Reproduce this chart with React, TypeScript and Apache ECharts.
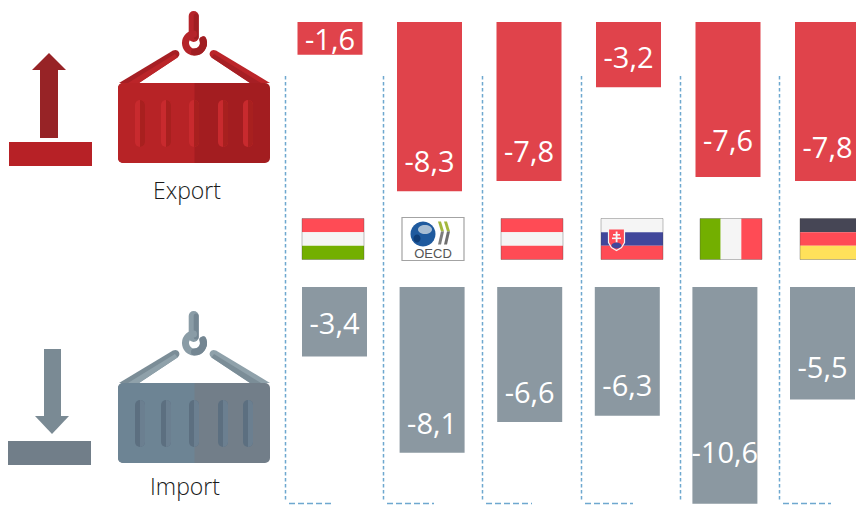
import React, { useEffect, useRef } from "react";
import * as echarts from "echarts";

const countries = ["Hungary", "OECD", "Austria", "Slovakia", "Italy", "Germany"];
const exportValues = [-1.6, -8.3, -7.8, -3.2, -7.6, -7.8];
const importValues = [-3.4, -8.1, -6.6, -6.3, -10.6, -5.5];
const exportLabelLift = [2, 16, 16, 16, 23, 20];
const importLabelLift = [20, 16, 16, 17, 38, 19];
const dividerX = [285, 383, 482, 581, 680, 779];
const dividerFootEnd = [333, 434, 532, 633, 680, 831];
const flagX = [302, 402, 501, 601, 700, 800];

const RED = "#e0434b";
const GREY = "#8b98a1";
const DASH = "#6ea8cf";
const FONT = "'Open Sans', sans-serif";

const fmt = (p: any) => Number(p.value).toFixed(1).replace(".", ",");

function barSeries(values: number[], lifts: number[], axis: number, color: string) {
  return {
    type: "bar",
    xAxisIndex: axis,
    yAxisIndex: axis,
    barWidth: 65,
    silent: true,
    itemStyle: { color },
    data: values.map((v, i) => ({
      value: v,
      label: {
        show: true,
        position: "insideBottom",
        distance: 0,
        offset: [0, -lifts[i]],
        color: "#ffffff",
        fontFamily: FONT,
        fontSize: 29,
        formatter: fmt,
      },
    })),
  };
}

function container(y: number, c: any): any[] {
  const ribs = [135, 161, 189, 218, 243];
  const mid = 194.5;
  const mirror = (pts: number[][]) => pts.map(([px, py]) => [2 * mid - px, py]);
  const strapOuter = [[119, y], [139, y], [177.5, y - 25.5], [173, y - 32.5]];
  const strapLow = [[128, y], [139, y], [177.5, y - 25.5], [175, y - 29]];
  const els: any[] = [
    // hook stem
    { type: "line", shape: { x1: 193.7, y1: y - 67, x2: 193.7, y2: y - 46 }, style: { stroke: c.hook, lineWidth: 10, lineCap: "round" } },
    { type: "line", shape: { x1: 196.2, y1: y - 67, x2: 196.2, y2: y - 46 }, style: { stroke: c.hookDark, lineWidth: 5, lineCap: "round" } },
    // hook ring
    { type: "arc", shape: { cx: mid, cy: y - 40, r: 9, startAngle: -0.35, endAngle: 4.6, clockwise: true }, style: { stroke: c.hook, fill: "none", lineWidth: 7, lineCap: "round" } },
    { type: "arc", shape: { cx: mid, cy: y - 40, r: 9, startAngle: -0.35, endAngle: 1.57, clockwise: true }, style: { stroke: c.hookDark, fill: "none", lineWidth: 7, lineCap: "round" } },
    // straps
    { type: "polygon", shape: { points: strapOuter }, style: { fill: c.strapA } },
    { type: "circle", shape: { cx: 175.3, cy: y - 29, r: 4.1 }, style: { fill: c.strapA } },
    { type: "polygon", shape: { points: strapLow }, style: { fill: c.strapB } },
    { type: "polygon", shape: { points: mirror(strapOuter) }, style: { fill: c.strapB } },
    { type: "circle", shape: { cx: 2 * mid - 175.3, cy: y - 29, r: 4.1 }, style: { fill: c.strapB } },
    { type: "polygon", shape: { points: mirror(strapLow) }, style: { fill: c.strapA } },
    // body
    { type: "rect", shape: { x: 118, y, width: 152, height: 80, r: [5, 5, 5, 5] }, style: { fill: c.right } },
    { type: "rect", shape: { x: 118, y, width: 76.5, height: 80, r: [5, 0, 0, 5] }, style: { fill: c.left } },
  ];
  ribs.forEach((rx) => {
    els.push({ type: "rect", shape: { x: rx, y: y + 17, width: 10, height: 47, r: 5 }, style: { fill: c.ribA } });
    els.push({ type: "rect", shape: { x: rx + 5, y: y + 17, width: 5, height: 47, r: [0, 5, 5, 0] }, style: { fill: c.ribB } });
  });
  return els;
}

function flag(x: number, kind: string): any {
  const w = 62, h = 41, y = 218.5;
  const stripesH = (cols: string[]) =>
    cols.map((fill, i) => ({ type: "rect", shape: { x, y: y + (i * h) / 3, width: w, height: h / 3 }, style: { fill } }));
  const stripesV = (cols: string[]) =>
    cols.map((fill, i) => ({ type: "rect", shape: { x: x + (i * w) / 3, y, width: w / 3, height: h }, style: { fill } }));
  const frame = { type: "rect", shape: { x: x, y, width: w, height: h }, style: { fill: "none", stroke: "rgba(70,70,70,0.35)", lineWidth: 1 } };
  if (kind === "Hungary") return [...stripesH(["#ff4b55", "#f5f5f5", "#73af00"]), frame];
  if (kind === "Austria") return [...stripesH(["#ff4b55", "#f5f5f5", "#ff4b55"]), frame];
  if (kind === "Germany") return [...stripesH(["#464655", "#ff4b55", "#ffe15a"]), frame];
  if (kind === "Italy") return [...stripesV(["#73af00", "#f5f5f5", "#ff4b55"]), frame];
  if (kind === "Slovakia")
    return [
      ...stripesH(["#f5f5f5", "#41479b", "#ff4b55"]),
      frame,
      { type: "polygon", shape: { points: [[x + 7.5, y + 10.5], [x + 23.5, y + 10.5], [x + 23.5, y + 24], [x + 20.5, y + 29], [x + 15.5, y + 32], [x + 10.5, y + 29], [x + 7.5, y + 24]] }, style: { fill: "#ff4b55", stroke: "#f5f5f5", lineWidth: 1.2 } },
      { type: "rect", shape: { x: x + 14.7, y: y + 13, width: 1.8, height: 11 }, style: { fill: "#f5f5f5" } },
      { type: "rect", shape: { x: x + 12, y: y + 15.5, width: 7, height: 1.6 }, style: { fill: "#f5f5f5" } },
      { type: "rect", shape: { x: x + 11, y: y + 19, width: 9, height: 1.6 }, style: { fill: "#f5f5f5" } },
      { type: "ellipse", shape: { cx: x + 15.5, cy: y + 27, rx: 5, ry: 3 }, style: { fill: "#41479b" } },
    ];
  // OECD logo
  const chevron = (dx: number, top: string, bottom: string) => [
    { type: "polygon", shape: { points: [[x + dx, y + 3], [x + dx + 3, y + 3], [x + dx + 6, y + 13], [x + dx + 3, y + 13]] }, style: { fill: top } },
    { type: "polygon", shape: { points: [[x + dx + 3, y + 13], [x + dx + 6, y + 13], [x + dx + 3, y + 26], [x + dx, y + 26]] }, style: { fill: bottom } },
  ];
  return [
    { type: "rect", shape: { x, y: y - 1, width: w, height: h + 2 }, style: { fill: "#ffffff", stroke: "#a3a3a3", lineWidth: 1.2 } },
    { type: "circle", shape: { cx: x + 21, cy: y + 15.5, r: 12.5 }, style: { fill: "#1f5a9e" } },
    { type: "ellipse", shape: { cx: x + 23, cy: y + 11, rx: 7, ry: 4.5 }, style: { fill: "#a7bdd3" } },
    { type: "ellipse", shape: { cx: x + 15, cy: y + 20, rx: 3.5, ry: 4 }, style: { fill: "#0e3d78" } },
    ...chevron(36, "#a3b83c", "#7d7d7d"),
    ...chevron(42, "#a3b83c", "#6f6f6f"),
    { type: "text", style: { x: x + 31, y: y + 35, text: "OECD", fill: "#555555", fontFamily: "'Liberation Sans', sans-serif", fontSize: 13, align: "center", verticalAlign: "middle" } },
  ];
}

export default function App() {
  const ref = useRef<HTMLDivElement>(null);
  useEffect(() => {
    const chart = echarts.init(ref.current!, undefined, { renderer: "svg" });
    const dividers: any[] = [];
    dividerX.forEach((x, i) => {
      dividers.push({
        type: "line",
        z: -1,
        shape: { x1: x + 0.5, y1: 76, x2: x + 0.5, y2: 502 },
        style: { stroke: DASH, lineWidth: 1.5, lineDash: [3.5, 2.5] },
      });
      if (dividerFootEnd[i] > x) {
        dividers.push({
          type: "line",
          z: -1,
          shape: { x1: x + 4, y1: 503.5, x2: dividerFootEnd[i], y2: 503.5 },
          style: { stroke: DASH, lineWidth: 1.5, lineDash: [6, 3] },
        });
      }
    });
    const icons: any[] = [
      // export arrow + base
      { type: "rect", shape: { x: 40, y: 69, width: 18, height: 69 }, style: { fill: "#972326" } },
      { type: "polygon", shape: { points: [[32, 70], [49, 53], [66, 70]] }, style: { fill: "#972326" } },
      { type: "rect", shape: { x: 9, y: 142, width: 83, height: 24 }, style: { fill: "#b72126" } },
      ...container(83, { hook: "#b5242a", hookDark: "#a01e22", strapA: "#a61f24", strapB: "#bb2529", left: "#b72326", right: "#a31d20", ribA: "#c82a2e", ribB: "#a8201f" }),
      { type: "text", style: { x: 187, y: 190, text: "Export", fill: "#1a1a1a", fontFamily: FONT, fontSize: 23, fontWeight: 300, align: "center", verticalAlign: "middle" } },
      // import arrow + base
      { type: "rect", shape: { x: 44, y: 349, width: 17, height: 68 }, style: { fill: "#7a8a94" } },
      { type: "polygon", shape: { points: [[35, 416], [69, 416], [52, 434]] }, style: { fill: "#7a8a94" } },
      { type: "rect", shape: { x: 8, y: 441, width: 83, height: 24 }, style: { fill: "#717e89" } },
      ...container(383, { hook: "#8a9ca6", hookDark: "#748692", strapA: "#7b8d97", strapB: "#8fa1aa", left: "#6d8494", right: "#727e89", ribA: "#5c6f80", ribB: "#6b7f90" }),
      { type: "text", style: { x: 185, y: 486, text: "Import", fill: "#1a1a1a", fontFamily: FONT, fontSize: 23, fontWeight: 300, align: "center", verticalAlign: "middle" } },
    ];
    const flags = countries.flatMap((c, i) => flag(flagX[i], c));
    chart.setOption({
      animation: false,
      backgroundColor: "#ffffff",
      grid: [
        { left: 280.25, top: 22, width: 597, height: 183.6, outerBoundsMode: "none" },
        { left: 285.7, top: 287, width: 585.6, height: 225, outerBoundsMode: "none" },
      ],
      xAxis: [0, 1].map((gridIndex) => ({ type: "category", gridIndex, data: countries, show: false })),
      yAxis: [
        { type: "value", gridIndex: 0, min: -9, max: 0, show: false },
        { type: "value", gridIndex: 1, min: -11, max: 0, show: false },
      ],
      series: [
        barSeries(exportValues, exportLabelLift, 0, RED),
        barSeries(importValues, importLabelLift, 1, GREY),
      ],
      graphic: [...dividers, ...icons, ...flags],
    });
    return () => chart.dispose();
  }, []);
  return <div ref={ref} style={{ position: "absolute", left: 0, top: 0, width: 856, height: 505 }} />;
}
